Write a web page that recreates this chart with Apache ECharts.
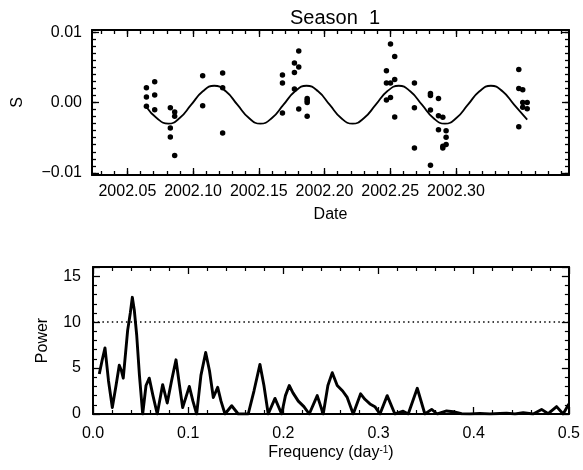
<!DOCTYPE html>
<html><head><meta charset="utf-8">
<script src="https://cdn.jsdelivr.net/npm/echarts@6/dist/echarts.min.js"></script>
<style>html,body{margin:0;padding:0;background:#fff}#c{width:583px;height:470px}</style>
</head><body><div id="c"></div>
<script>
// ---- Data ----
const obsDates = [
2002.0645, 2002.0645, 2002.0645,
2002.0708, 2002.0708, 2002.0708,
2002.0827, 2002.0827, 2002.0827,
2002.0860, 2002.0860, 2002.0860,
2002.1073, 2002.1073,
2002.1225, 2002.1225, 2002.1225,
2002.1680, 2002.1680, 2002.1680,
2002.1771, 2002.1771, 2002.1771,
2002.1804, 2002.1804, 2002.1804,
2002.1868, 2002.1868, 2002.1868, 2002.1868,
2002.2471, 2002.2471, 2002.2471,
2002.2502, 2002.2502, 2002.2502,
2002.2534, 2002.2534, 2002.2534,
2002.2684, 2002.2684, 2002.2684,
2002.2806, 2002.2806, 2002.2806, 2002.2806,
2002.2867, 2002.2867, 2002.2867,
2002.2900, 2002.2900, 2002.2900,
2002.2925, 2002.2925, 2002.2925,
2002.3478, 2002.3478, 2002.3478,
2002.3508, 2002.3508, 2002.3508,
2002.3542, 2002.3542
];
const obsS = [
0.00210, 0.00078, -0.00055,
0.00295, 0.00106, -0.00102,
-0.00074, -0.00362, -0.00489,
-0.00135, -0.00197, -0.00754,
0.00380, -0.00045,
0.00418, 0.00210, -0.00432,
0.00390, 0.00277, -0.00149,
0.00560, 0.00427, 0.00191,
0.00730, 0.00503, -0.00092,
0.00058, 0.00030, 0.00001, -0.00197,
0.00451, 0.00277, 0.00035,
0.00830, 0.00277, 0.00072,
0.00654, 0.00328, -0.00206,
0.00277, -0.00074, -0.00645,
0.00129, 0.00101, -0.00106, -0.00892,
0.00058, -0.00187, -0.00386,
-0.00211, -0.00623, -0.00645,
-0.00400, -0.00495, -0.00598,
0.00469, 0.00200, -0.00343,
0.00182, 0.00001, -0.00069,
0.00001, -0.00088
];
const fitDates = [2002.0645, 2002.0723, 2002.0811, 2002.0898, 2002.0986, 2002.1074, 2002.1161, 2002.1249, 2002.1337, 2002.1425, 2002.1512, 2002.1600, 2002.1688, 2002.1776, 2002.1863, 2002.1951, 2002.2039, 2002.2126, 2002.2214, 2002.2301, 2002.2390, 2002.2477, 2002.2565, 2002.2652, 2002.2741, 2002.2828, 2002.2916, 2002.3003, 2002.3091, 2002.3179, 2002.3266, 2002.3354, 2002.3442, 2002.3542];
const fitS = [-0.00064, -0.00221, -0.00301, -0.00221, -0.00031, 0.00159, 0.00238, 0.00159, -0.00031, -0.00221, -0.00301, -0.00221, -0.00031, 0.00159, 0.00238, 0.00159, -0.00031, -0.00221, -0.00301, -0.00221, -0.00031, 0.00159, 0.00238, 0.00159, -0.00031, -0.00221, -0.00301, -0.00221, -0.00031, 0.00159, 0.00238, 0.00159, -0.00031, -0.00244];

const freq = [0.0066,0.0095,0.0126,0.0163,0.0203,0.0242,0.0276,0.0299,0.0318,0.0364,
0.0392,0.0413,0.0434,0.0459,0.0488,0.0522,0.0557,0.0591,0.0630,0.0675,
0.0732,0.0780,0.0825,0.0872,0.0909,0.0942,0.1012,0.1050,0.1089,0.1134,
0.1184,0.1224,0.1264,0.1310,0.1345,0.1387,0.1457,0.1526,0.1631,0.1691,
0.1754,0.1796,0.1841,0.1912,0.1982,0.2022,0.2062,0.2101,0.2157,0.2216,
0.2272,0.2356,0.2419,0.2468,0.2514,0.2566,0.2623,0.2671,0.2734,0.2812,
0.2857,0.2910,0.2962,0.3015,0.3091,0.3172,0.3259,0.3312,0.3407,0.3487,
0.3558,0.3617,0.3715,0.3785,0.3873,0.3960,0.4065,0.4170,0.4275,0.4346,
0.4433,0.4520,0.4625,0.4713,0.4783,0.4871,0.4940,0.5000];
const power = [4.36,5.8,7.2,3.6,0.7,3.1,5.3,4.7,3.9,9.1,
11.0,12.7,11.3,8.6,4.2,0,3.1,3.9,2.0,0,
3.2,1.2,3.6,5.9,3.1,0.7,3.0,1.4,0,4.2,
6.7,4.7,1.8,2.9,1.4,0,0.9,0,0,2.5,
5.4,3.1,0,1.7,0,2.0,3.1,2.3,1.4,0.8,
0,2.0,0,3.1,4.5,3.1,2.5,1.8,0,2.2,
1.6,1.1,0.8,0,2.0,0,0.3,0,2.8,0,
0.5,0,0.33,0.25,0.03,0,0.05,0,0.05,0.1,
0,0.13,0,0.5,0.03,0.8,0,1.1];

const dateTicks = [2002.05, 2002.10, 2002.15, 2002.20, 2002.25, 2002.30];
const sTicks = [-0.01, 0.00, 0.01];
const powerLevel = 10;

// ---- helpers ----
const FONT = 'Liberation Sans';
const K = '#000';
function steps(a, b, st) { const r = []; for (let i = 0; a + i * st <= b + st / 2; i++) r.push(+(a + i * st).toFixed(6)); return r; }
const dateMinor = steps(2002.03, 2002.38, 0.01);
const sMinor = steps(-0.010, 0.010, 0.001);

const X0 = 2002.0231, X1 = 2002.386, Y0 = -0.0103, Y1 = 0.0103;
const txt = { fontFamily: FONT, fontSize: 16, color: K };

function axis(o) {
  return {
    type: 'value', gridIndex: o.grid, position: o.pos, min: o.min, max: o.max,
    interval: o.interval,
    name: o.name || '', nameLocation: 'middle', nameGap: o.nameGap || 0,
    nameTextStyle: o.nameStyle || txt,
    axisLine: { show: o.line !== false, onZero: false, lineStyle: { color: K, width: 2 } },
    axisTick: Object.assign({ show: true, inside: true, length: o.tickLen || 7, lineStyle: { color: K, width: 1.3 } },
      o.tickValues ? { customValues: o.tickValues } : {}),
    minorTick: { show: !!o.minor, splitNumber: o.minor || 5, length: 4, lineStyle: { color: K, width: 1.2 } },
    axisLabel: o.labels ? Object.assign({ show: true, margin: o.margin || 8, formatter: o.fmt }, txt,
      o.labelValues ? { customValues: o.labelValues } : {}, { showMinLabel: o.showMin, showMaxLabel: o.showMax }) : { show: false },
    splitLine: { show: false }
  };
}

const xAxes = [
  axis({ grid: 0, pos: 'bottom', min: X0, max: X1, tickValues: dateTicks, labels: true, labelValues: dateTicks,
         fmt: v => v.toFixed(2), margin: 9, name: 'Date', nameGap: 32 }),
  axis({ grid: 0, pos: 'bottom', min: X0, max: X1, tickValues: dateMinor, tickLen: 4, line: false }),
  axis({ grid: 0, pos: 'top', min: X0, max: X1, tickValues: dateTicks }),
  axis({ grid: 0, pos: 'top', min: X0, max: X1, tickValues: dateMinor, tickLen: 4, line: false }),
  axis({ grid: 1, pos: 'bottom', min: 0, max: 0.5, interval: 0.1, minor: 5, labels: true, fmt: v => v.toFixed(1), margin: 12,
         name: 'Frequency (day{sup|-1})', nameGap: 31,
         nameStyle: Object.assign({}, txt, { rich: { sup: { fontFamily: FONT, fontSize: 10, color: K, verticalAlign: 'top', lineHeight: 10 } } }) }),
  axis({ grid: 1, pos: 'top', min: 0, max: 0.5, interval: 0.1, minor: 5 })
];
const yAxes = [
  axis({ grid: 0, pos: 'left', min: Y0, max: Y1, tickValues: sTicks, labels: true, labelValues: sTicks,
         fmt: v => v.toFixed(2).replace('-', '\u2212'), margin: 10, name: 'S', nameGap: 66 }),
  axis({ grid: 0, pos: 'left', min: Y0, max: Y1, tickValues: sMinor, tickLen: 4, line: false }),
  axis({ grid: 0, pos: 'right', min: Y0, max: Y1, tickValues: sTicks }),
  axis({ grid: 0, pos: 'right', min: Y0, max: Y1, tickValues: sMinor, tickLen: 4, line: false }),
  axis({ grid: 1, pos: 'left', min: 0, max: 16, interval: 5, minor: 5, labels: true, fmt: v => String(v), margin: 12,
         showMax: false, name: 'Power', nameGap: 42 }),
  axis({ grid: 1, pos: 'right', min: 0, max: 16, interval: 5, minor: 5 })
];

const chart = echarts.init(document.getElementById('c'), null, { renderer: 'canvas' });
chart.setOption({
  animation: false,
  backgroundColor: '#fff',
  title: { text: 'Season  1', left: 285, top: 3, textStyle: { fontFamily: FONT, fontSize: 20, fontWeight: 'normal', color: K } },
  grid: [
    { left: 92, top: 30, width: 477, height: 145 },
    { left: 93, top: 267, width: 476, height: 147 }
  ],
  xAxis: xAxes,
  yAxis: yAxes,
  series: [
    { type: 'scatter', xAxisIndex: 0, yAxisIndex: 0, symbol: 'circle', symbolSize: 5.5,
      itemStyle: { color: K, opacity: 1 }, data: obsDates.map((d, i) => [d, obsS[i]]) },
    { type: 'line', xAxisIndex: 0, yAxisIndex: 0, smooth: 0.5, showSymbol: false,
      lineStyle: { color: K, width: 1.8 }, data: fitDates.map((d, i) => [d, fitS[i]]) },
    { type: 'line', xAxisIndex: 4, yAxisIndex: 4, showSymbol: false, clip: true,
      lineStyle: { color: K, width: 2.9, join: 'round' }, data: freq.map((f, i) => [f, power[i]]),
      markLine: { silent: true, symbol: 'none', label: { show: false },
        lineStyle: { color: K, width: 1.5, type: [1.5, 3.2] }, data: [{ yAxis: powerLevel }] } }
  ]
});
</script>
</body></html>
